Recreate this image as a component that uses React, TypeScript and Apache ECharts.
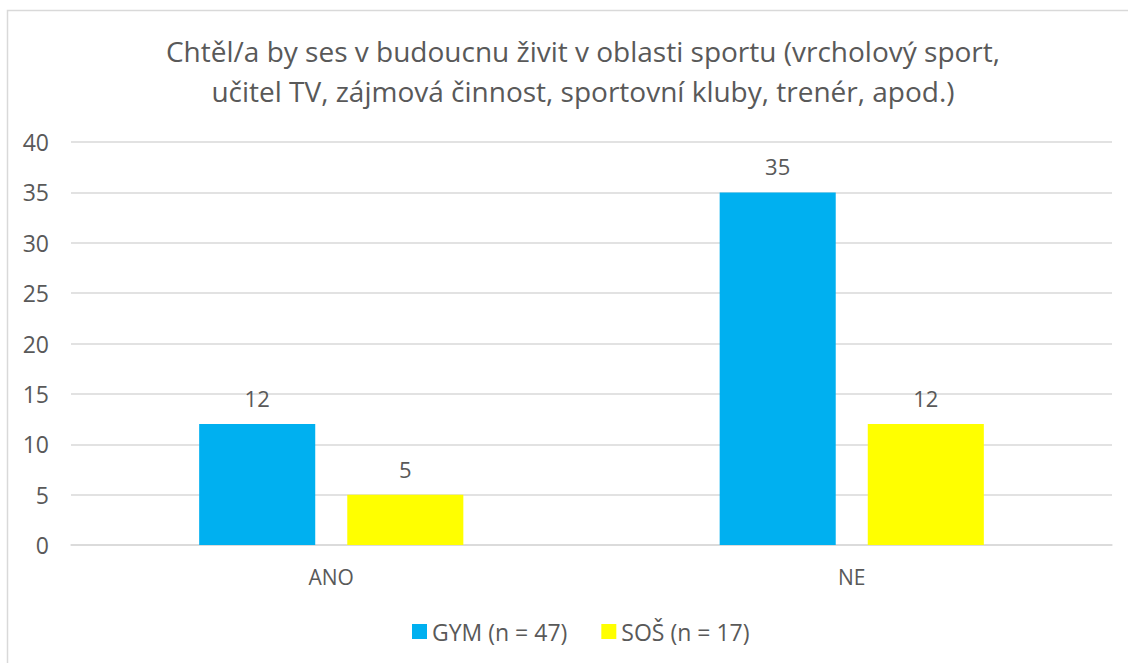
import React, { useEffect, useRef } from "react";
import * as echarts from "echarts";

const categories = ["ANO", "NE"];
const gymValues = [12, 35];
const sosValues = [5, 12];
const seriesNames = ["GYM (n = 47)", "SOŠ (n = 17)"];
const titleText =
  "Chtěl/a by ses v budoucnu živit v oblasti sportu (vrcholový sport,\nučitel TV, zájmová činnost, sportovní kluby, trenér, apod.)";

const FONT = "Open Sans";
const TXT = "#595959";

export default function App() {
  const ref = useRef<HTMLDivElement>(null);
  useEffect(() => {
    const chart = echarts.init(ref.current!, null, { renderer: "svg" });
    chart.setOption({
      animation: false,
      backgroundColor: "#ffffff",
      textStyle: { fontFamily: FONT, color: TXT },
      graphic: [
        {
          type: "rect",
          shape: { x: 7.5, y: 10.5, width: 1200, height: 800 },
          style: { fill: "none", stroke: "#d9d9d9", lineWidth: 1.5 },
          silent: true,
          z: -1,
        },
      ],
      title: {
        text: titleText,
        left: 578,
        textAlign: "center",
        top: 26,
        textStyle: {
          fontFamily: FONT,
          fontSize: 28,
          fontWeight: "normal",
          color: TXT,
          lineHeight: 40,
        },
      },
      legend: {
        bottom: 15,
        left: 407,
        itemWidth: 15,
        itemHeight: 15,
        itemGap: 34,
        itemTextGap: 7,
        icon: "rect",
        textStyle: { fontFamily: FONT, fontSize: 23, color: TXT },
        data: seriesNames,
      },
      grid: { left: 71, right: 16, top: 142, bottom: 118 },
      xAxis: {
        type: "category",
        data: categories,
        axisTick: { show: false },
        axisLine: { lineStyle: { color: "#d9d9d9", width: 1.5 } },
        axisLabel: { fontFamily: FONT, fontSize: 21, color: TXT, margin: 21 },
      },
      yAxis: {
        type: "value",
        min: 0,
        max: 40,
        interval: 5,
        axisLine: { show: false },
        axisTick: { show: false },
        splitLine: { lineStyle: { color: "#d9d9d9", width: 1.5 } },
        axisLabel: { fontFamily: FONT, fontSize: 23, color: TXT, margin: 22 },
      },
      series: [
        {
          name: seriesNames[0],
          type: "bar",
          data: gymValues,
          barWidth: "22.3%",
          barGap: "27.6%",
          itemStyle: { color: "#00B0F0" },
          label: {
            show: true,
            position: "top",
            distance: 15,
            fontFamily: FONT,
            fontSize: 22,
            color: TXT,
          },
        },
        {
          name: seriesNames[1],
          type: "bar",
          data: sosValues,
          barWidth: "22.3%",
          itemStyle: { color: "#FFFF00" },
          label: {
            show: true,
            position: "top",
            distance: 15,
            fontFamily: FONT,
            fontSize: 22,
            color: TXT,
          },
        },
      ],
    });
    return () => chart.dispose();
  }, []);
  return (
    <div
      ref={ref}
      style={{ position: "absolute", left: 0, top: 0, width: 1128, height: 663 }}
    />
  );
}
